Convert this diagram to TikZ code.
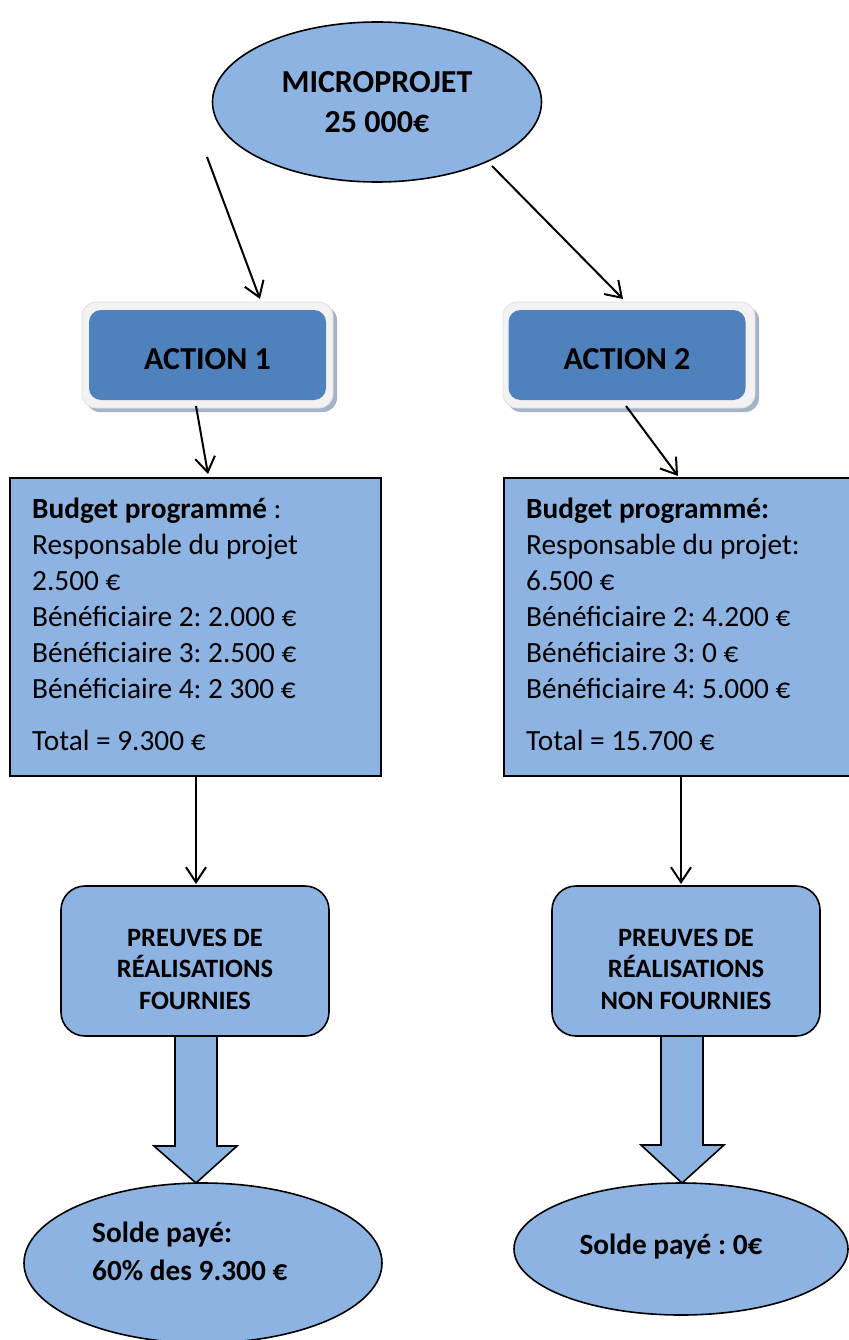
\documentclass[tikz,border=0pt]{standalone}
\usepackage{fontspec}
\setmainfont{Carlito}
\usetikzlibrary{arrows.meta,shapes.geometric}
\definecolor{lb}{HTML}{8DB3E2}
\definecolor{db}{HTML}{4F81BD}
\definecolor{fr}{HTML}{F2F2F2}
\definecolor{sh}{HTML}{A5B3C6}
\begin{document}
\frenchspacing
\begin{tikzpicture}[x=1pt,y=-1pt,
  arr/.style={line width=2pt,-{Straight Barb[length=15pt,width=20pt,line width=2pt]}},
  bubble/.style={ellipse,draw=black,line width=1.6pt,fill=lb,inner sep=0pt},
  bbox/.style={rectangle,draw=black,line width=2pt,fill=lb,inner sep=0pt},
  pbox/.style={rectangle,rounded corners=24pt,draw=black,line width=1.6pt,fill=lb,inner sep=0pt},
  frame/.style={rectangle,rounded corners=14pt,fill=fr,draw=black!12,line width=0.8pt,inner sep=0pt},
  act/.style={rectangle,rounded corners=12pt,fill=db,inner sep=0pt,text height=28pt,text depth=0pt,font=\bfseries\fontsize{32}{38}\selectfont},
  blk/.style={draw=black,line width=1.6pt,fill=lb,line join=miter},
  bodytext/.style={inner sep=0pt,align=left,anchor=north west,font=\fontsize{29.3}{36}\selectfont},
  ptext/.style={inner sep=0pt,align=center,font=\bfseries\fontsize{26.5}{31.5}\selectfont},
  stext/.style={inner sep=0pt,align=left,font=\bfseries\fontsize{29.3}{38}\selectfont}
]
\useasboundingbox (0,0) rectangle (848,1340);

% top ellipse
\node[bubble,minimum width=329pt,minimum height=160pt,align=center,
      font=\bfseries\fontsize{32}{40}\selectfont] (top) at (377,102) {MICROPROJET\\25 000€};

% action boxes
\fill[sh,rounded corners=14pt] (86,306) rectangle (337,412);
\node[frame,minimum width=251pt,minimum height=106pt] (act1o) at (207.5,355) {};
\node[act,minimum width=237pt,minimum height=90pt] (act1) at (207.5,355) {ACTION 1};
\fill[sh,rounded corners=14pt] (507,306) rectangle (759,412);
\node[frame,minimum width=252pt,minimum height=106pt] (act2o) at (629,355) {};
\node[act,minimum width=237pt,minimum height=90pt] (act2) at (627,355) {ACTION 2};

% budget boxes
\node[bbox,minimum width=371pt,minimum height=298pt] (bud1) at (195.5,627) {};
\node[bodytext] (b1t) at (32,498) {\textbf{Budget programmé} :\\Responsable du projet\\2.500 €\\Bénéficiaire 2: 2.000 €\\Bénéficiaire 3: 2.500 €\\Bénéficiaire 4: 2 300 €\\[16pt]Total = 9.300 €};
\node[bbox,minimum width=376pt,minimum height=298pt] (bud2) at (692,627) {};
\node[bodytext] (b2t) at (526,498) {\textbf{Budget programmé:}\\Responsable du projet:\\6.500 €\\Bénéficiaire 2: 4.200 €\\Bénéficiaire 3: 0 €\\Bénéficiaire 4: 5.000 €\\[16pt]Total = 15.700 €};

% preuves boxes
\node[pbox,minimum width=268pt,minimum height=150pt] (pr1) at (195,961) {};
\node[ptext] (pr1t) at (195,969) {PREUVES DE\\RÉALISATIONS\\FOURNIES};
\node[pbox,minimum width=268pt,minimum height=150pt] (pr2) at (686,961) {};
\node[ptext] (pr2t) at (686,969) {PREUVES DE\\RÉALISATIONS\\NON FOURNIES};

% block arrows
\draw[blk] (175,1036) -- (217,1036) -- (217,1146) -- (237,1146) -- (196,1183) -- (154,1146) -- (175,1146) -- cycle;
\draw[blk] (661,1036) -- (703,1036) -- (703,1145) -- (724,1145) -- (682,1183) -- (641,1145) -- (661,1145) -- cycle;

% solde ellipses
\node[bubble,minimum width=358pt,minimum height=160pt] (sol1) at (203,1263) {};
\node[stext,anchor=west] (sol1t) at (92,1251) {Solde payé:\\60\% des 9.300 €};
\node[bubble,minimum width=334pt,minimum height=132pt] (sol2) at (681,1249) {};
\node[stext] (sol2t) at (671,1247) {Solde payé : 0€};

% connector end points
\coordinate (s1) at (207,157);
\coordinate (e1) at (260,299);
\coordinate (s2) at (492,166);
\coordinate (e2) at (623,299);
\coordinate (s3) at (196,406);
\coordinate (e3) at (208,474);
\coordinate (s4) at (626,406);
\coordinate (e4) at (678,476);
\coordinate (s5) at (196,776);
\coordinate (e5) at (196,884);
\coordinate (s6) at (681,776);
\coordinate (e6) at (681,884);

\draw[arr] (s1) -- (e1);
\draw[arr] (s2) -- (e2);
\draw[arr] (s3) -- (e3);
\draw[arr] (s4) -- (e4);
\draw[arr] (s5) -- (e5);
\draw[arr] (s6) -- (e6);
\end{tikzpicture}
\end{document}
